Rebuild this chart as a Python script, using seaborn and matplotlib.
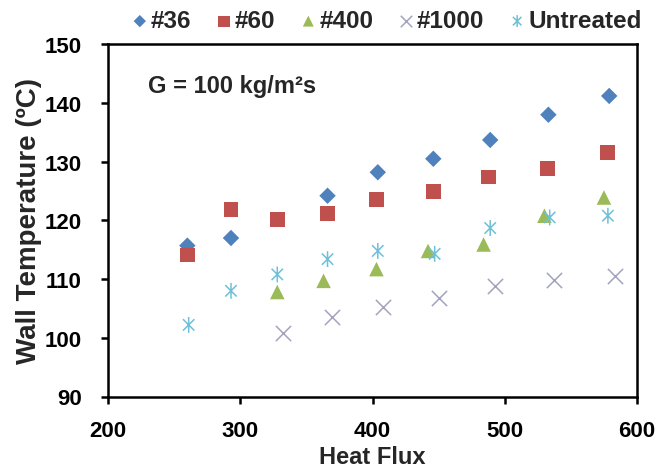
import numpy as np
import pandas as pd
import matplotlib
matplotlib.use("Agg")
import matplotlib.pyplot as plt
from matplotlib.path import Path
import seaborn as sns

# ---- data ----
x36 = [260, 293, 366, 404, 446, 489, 533, 579]
y36 = [115.7, 117.0, 124.2, 128.2, 130.5, 133.7, 138.0, 141.2]
x60 = [260, 293, 328, 366, 403, 446, 488, 532, 578]
y60 = [114.1, 121.9, 120.1, 121.1, 123.5, 124.9, 127.4, 128.8, 131.6]
x400 = [328, 363, 403, 442, 484, 530, 575]
y400 = [107.8, 109.7, 111.7, 114.8, 115.9, 120.8, 123.9]
x1000 = [332, 369, 408, 450, 493, 537, 583]
y1000 = [100.8, 103.6, 105.2, 106.7, 108.9, 109.8, 110.5]
xU = [261, 293, 328, 366, 404, 447, 489, 534, 578]
yU = [102.2, 108.0, 110.8, 113.4, 114.8, 114.3, 118.7, 120.5, 120.8]

labels = ["#36", "#60", "#400", "#1000", "Untreated"]
xticks = [200, 300, 400, 500, 600]
yticks = [90, 100, 110, 120, 130, 140, 150]

sns.set_theme(style="white")
FONT = ["Liberation Sans", "DejaVu Sans"]
plt.rcParams["font.family"] = FONT
plt.rcParams["font.weight"] = "bold"

fig = plt.figure(figsize=(6.59, 4.77), dpi=100)
ax = fig.add_axes([108 / 659, 1 - 397.5 / 477, (637 - 108) / 659, (397.5 - 45.3) / 477])

ast = Path([[0, -1], [0, 1], [-0.72, -0.72], [0.72, 0.72], [-0.72, 0.72], [0.72, -0.72]],
           [Path.MOVETO, Path.LINETO, Path.MOVETO, Path.LINETO, Path.MOVETO, Path.LINETO])

series = [
    (x36, y36, labels[0], dict(marker="D", color="#4F81BD", s=70, edgecolor="none", linewidth=0)),
    (x60, y60, labels[1], dict(marker="s", color="#C0504D", s=115, edgecolor="none", linewidth=0)),
    (x400, y400, labels[2], dict(marker="^", color="#9BBB59", s=110, edgecolor="none", linewidth=0)),
    (x1000, y1000, labels[3], dict(marker="x", color="#A3A3BE", s=120, linewidth=1.1)),
    (xU, yU, labels[4], dict(marker=ast, color="#6EC0D8", facecolor="none", edgecolor="#6EC0D8", s=130, linewidth=1.1)),
]
for xs, ys, lab, kw in series:
    df = pd.DataFrame({"Heat Flux": xs, "Wall Temperature": ys})
    sns.scatterplot(data=df, x="Heat Flux", y="Wall Temperature", ax=ax, label=lab, **kw)

ax.set_xlim(200, 600)
ax.set_ylim(90, 150)
ax.set_xticks(xticks)
ax.set_yticks(yticks)
ax.set_xticklabels([str(t) for t in xticks], fontsize=16, fontweight="bold")
ax.set_yticklabels([str(t) for t in yticks], fontsize=16, fontweight="bold")
for side in ["left", "right", "top", "bottom"]:
    ax.spines[side].set_visible(True)
    ax.spines[side].set_color("black")
    ax.spines[side].set_linewidth(1.8)
ax.tick_params(axis="both", which="major", direction="out", length=5, width=1.8,
               color="black", labelcolor="black", bottom=True, left=True, top=False, right=False)
ax.tick_params(axis="y", pad=14)
ax.tick_params(axis="x", pad=12)

ax.set_xlabel("Heat Flux", fontsize=17, fontweight="bold", labelpad=3)
ax.set_ylabel("Wall Temperature (ºC)", fontsize=20, fontweight="bold", labelpad=2)

ax.text(230, 142.9, "G = 100 kg/m²s", fontsize=17, fontweight="bold",
        ha="left", va="center")

handles, labs = ax.get_legend_handles_labels()
if ax.get_legend():
    ax.get_legend().remove()
fig.legend(handles, labs, loc="center", bbox_to_anchor=(387 / 659, 1 - 22 / 477), ncol=5,
           frameon=False, handlelength=0.6, handletextpad=0.15, columnspacing=1.05,
           markerscale=0.75, prop=dict(weight="bold", size=17.5))

fig.savefig("out.png", dpi=100)
